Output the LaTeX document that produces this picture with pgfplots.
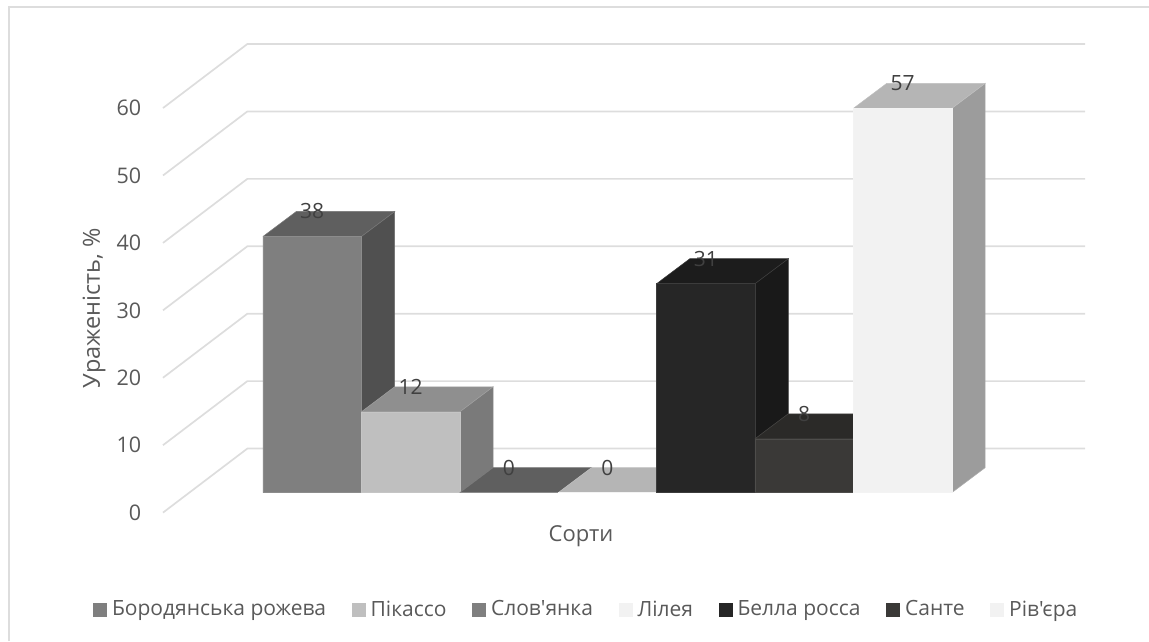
\documentclass[border=0pt]{standalone}
\usepackage{pgfplots}
\usepackage{fontspec}
\setmainfont{Open Sans}
\newfontfamily\straightfont{Open Sans}
\pgfplotsset{compat=1.18}

\definecolor{gridgray}{HTML}{DDDDDD}
\definecolor{ticktext}{HTML}{595959}
\definecolor{valtext}{HTML}{404040}

% bar index, value, front colour, top colour, side colour
\newcommand{\CubeBar}[5]{%
  \pgfmathsetmacro{\xa}{#1}%
  \pgfmathsetmacro{\xb}{#1+1}%
  \pgfmathsetmacro{\xc}{#1+1.3386}%
  \pgfmathsetmacro{\xd}{#1+0.3386}%
  \pgfmathsetmacro{\yb}{2.95}%
  \pgfmathsetmacro{\yt}{#2+2.95}%
  \pgfmathsetmacro{\ybb}{2.95+3.711}%
  \pgfmathsetmacro{\ytb}{#2+2.95+3.711}%
  \addplot[forget plot, draw=#5!85!white, line width=0.5pt, fill=#5]
    coordinates {(\xb,\yb)(\xc,\ybb)(\xc,\ytb)(\xb,\yt)(\xb,\yb)};
  \addplot[forget plot, draw=#4!85!white, line width=0.5pt, fill=#4]
    coordinates {(\xa,\yt)(\xb,\yt)(\xc,\ytb)(\xd,\ytb)(\xa,\yt)};
  \addplot[forget plot, draw=#3!90!white, line width=0.5pt, fill=#3]
    coordinates {(\xa,\yb)(\xb,\yb)(\xb,\yt)(\xa,\yt)(\xa,\yb)};
}
% legend swatch with the gap before its entry text
\newcommand{\Swatch}[1]{\addlegendimage{legend image code/.code={%
  \fill[#1, draw=none] (0pt,-7pt) rectangle (14pt,7pt);
  \path[draw=none, fill=none] (0pt,0pt) rectangle (17pt,0.1pt);}}}

\begin{document}
\fontsize{20}{24}\selectfont
\begin{tikzpicture}[x=1pt,y=1pt]
\path[use as bounding box] (0,0) rectangle (1149,641);
% chart frame
\draw[gridgray, line width=1.4pt] (9,0) -- (9,634) -- (1149,634);
\begin{axis}[
  at={(163pt,128.4pt)}, anchor=south west,
  scale only axis, width=922pt, height=468.6pt,
  clip=false,
  xmin=-1.016, xmax=8.354, ymin=0, ymax=69.5,
  axis line style={draw=none},
  tick style={draw=none},
  xtick=\empty,
  ytick={0,10,20,30,40,50,60},
  /pgf/number format/assume math mode=true,
  tick label style={font=\fontsize{21.5}{25}\selectfont, text=ticktext},
  yticklabel style={xshift=-15pt},
  xlabel={Сорти},
  ylabel={Ураженість, \%},
  xlabel style={font=\fontsize{22}{26}\selectfont, text=ticktext,
    at={(rel axis cs:0.4534,-0.05)}, anchor=center},
  ylabel style={font=\fontsize{23.5}{27}\selectfont, text=ticktext,
    at={(rel axis cs:-0.0748,0.4366)}, anchor=center},
  legend columns=7,
  legend cell align=left,
  legend style={at={(rel axis cs:-0.0759,-0.2075)}, anchor=west, draw=none, fill=none,
    inner sep=0pt, outer sep=0pt, font=\fontsize{21}{25}\selectfont, text=ticktext,
    /tikz/every even column/.append style={column sep=23.5pt}},
]
% floor and wall grid lines
\addplot[forget plot, gridgray, line width=1.7pt] coordinates {(-1.016,0)(-0.1585,9.5)(8.354,9.5)};
\addplot[forget plot, gridgray, line width=1.7pt] coordinates {(-1.016,10)(-0.1585,19.5)(8.354,19.5)};
\addplot[forget plot, gridgray, line width=1.7pt] coordinates {(-1.016,20)(-0.1585,29.5)(8.354,29.5)};
\addplot[forget plot, gridgray, line width=1.7pt] coordinates {(-1.016,30)(-0.1585,39.5)(8.354,39.5)};
\addplot[forget plot, gridgray, line width=1.7pt] coordinates {(-1.016,40)(-0.1585,49.5)(8.354,49.5)};
\addplot[forget plot, gridgray, line width=1.7pt] coordinates {(-1.016,50)(-0.1585,59.5)(8.354,59.5)};
\addplot[forget plot, gridgray, line width=1.7pt] coordinates {(-1.016,60)(-0.1585,69.5)(8.354,69.5)};

% bars, left to right
\definecolor{f0}{HTML}{7F7F7F}\definecolor{t0}{HTML}{5F5F5F}\definecolor{s0}{HTML}{505050}
\definecolor{f1}{HTML}{BFBFBF}\definecolor{t1}{HTML}{8F8F8F}\definecolor{s1}{HTML}{7A7A7A}
\definecolor{f3}{HTML}{F2F2F2}\definecolor{t3}{HTML}{B5B5B5}\definecolor{s3}{HTML}{9C9C9C}
\definecolor{f4}{HTML}{262626}\definecolor{t4}{HTML}{1C1C1C}\definecolor{s4}{HTML}{191919}
\definecolor{f5}{HTML}{3A3937}\definecolor{t5}{HTML}{2B2A28}\definecolor{s5}{HTML}{262523}
\CubeBar{0}{38}{f0}{t0}{s0}
\CubeBar{1}{12}{f1}{t1}{s1}
\CubeBar{2}{0}{f0}{t0}{s0}
\CubeBar{3}{0}{f3}{t3}{s3}
\CubeBar{4}{31}{f4}{t4}{s4}
\CubeBar{5}{8}{f5}{t5}{s5}
\CubeBar{6}{57}{f3}{t3}{s3}

% value labels on the back edge of each bar top
\addplot[forget plot, draw=none, mark=none, nodes near coords, point meta=explicit,
  nodes near coords style={anchor=center, inner sep=0pt, text=valtext,
    font=\fontsize{21}{25}\selectfont}]
  table[x=x, y expr=\thisrow{v}+6.66, meta=v] {
x v
0.5 38
1.5 12
2.5 0
3.5 0
4.5 31
5.5 8
6.5 57
};

\Swatch{f0}\addlegendentry{Бородянська рожева}
\Swatch{f1}\addlegendentry{Пікассо}
\Swatch{f0}\addlegendentry{{\straightfont Слов'янка}}
\Swatch{f3}\addlegendentry{Лілея}
\Swatch{f4}\addlegendentry{Белла росса}
\Swatch{f5}\addlegendentry{Санте}
\Swatch{f3}\addlegendentry{{\straightfont Рів'єра}}
\end{axis}
\end{tikzpicture}
\end{document}
